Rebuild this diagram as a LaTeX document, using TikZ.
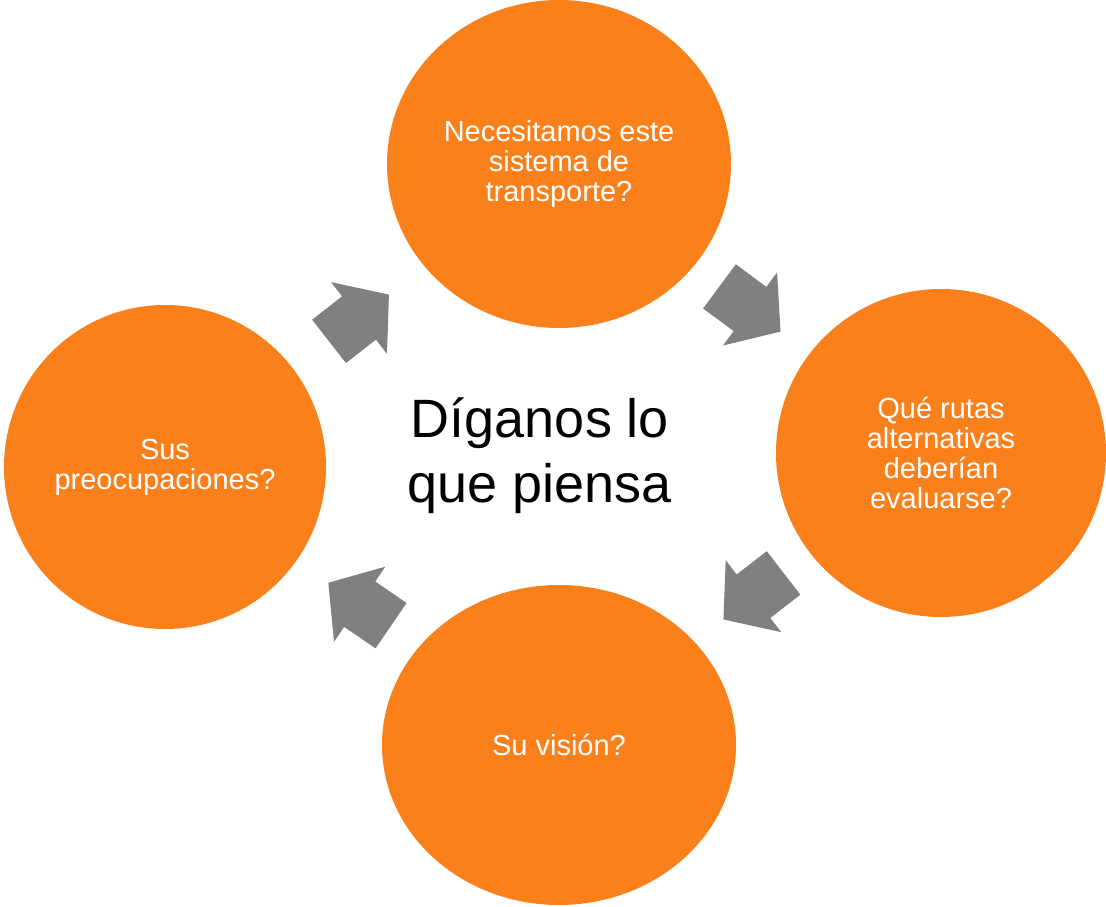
\documentclass[tikz,border=0pt]{standalone}
\usepackage{fontspec}
\setmainfont{Liberation Sans}
\usetikzlibrary{shapes.geometric}
\definecolor{naranja}{RGB}{250,128,27}
\definecolor{gris}{RGB}{128,128,128}
\tikzset{
  pics/flecha/.style={code={
    \fill[gris] (-38,-27.5) -- (0,-27.5) -- (0,-45.5) -- (38,0) -- (0,45.5) -- (0,27.5) -- (-38,27.5) -- cycle;
  }}
}
\begin{document}
\begin{tikzpicture}[x=1pt, y=1pt,
    circulo/.style={ellipse, fill=naranja, inner sep=0pt, text=white, align=center,
      font=\fontsize{29}{30}\selectfont}]
  \useasboundingbox (0,0) rectangle (1106,907);

  % círculos
  \node[circulo, minimum width=344pt, minimum height=328pt] (nec) at (559,743)
    {Necesitamos este\\sistema de\\transporte?};
  \node[circulo, minimum width=330pt, minimum height=328pt] (rutas) at (941,454)
    {Qué rutas\\alternativas\\deberían\\evaluarse?};
  \node[circulo, minimum width=354pt, minimum height=320pt] (vision) at (559,162)
    {Su visión?};
  \node[circulo, minimum width=322pt, minimum height=324pt] (preoc) at (165,440)
    {Sus\\preocupaciones?};

  % texto central
  \node[align=center, font=\fontsize{54}{65}\selectfont] (centro) at (540,451)
    {Díganos lo\\que piensa};

  % flechas
  \pic[rotate=38] at (359,589) {flecha};
  \pic[rotate=-36.5] at (750,598) {flecha};
  \pic[rotate=217.7] at (753.5,310.8) {flecha};
  \pic[rotate=145.6] at (359.7,302.8) {flecha};
\end{tikzpicture}
\end{document}
